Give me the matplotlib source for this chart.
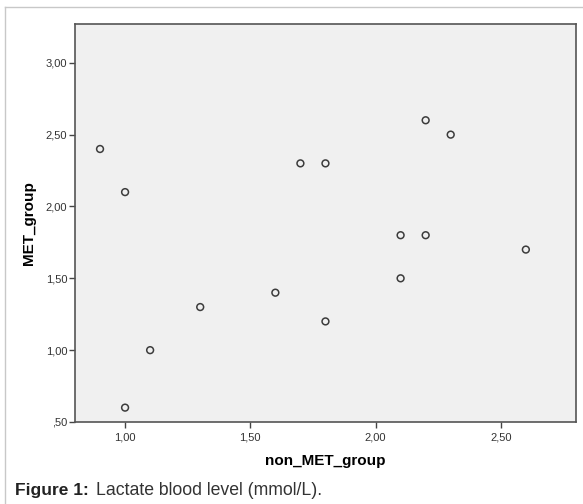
import matplotlib
matplotlib.use("Agg")
import matplotlib.pyplot as plt
import matplotlib.lines as lines

plt.rcParams['font.family'] = ['Liberation Sans', 'DejaVu Sans']

# lactate values (mmol/L)
non_met = [0.9, 1.0, 1.0, 1.1, 1.3, 1.6, 1.7, 1.8, 1.8, 2.1, 2.1, 2.2, 2.2, 2.3, 2.6]
met = [2.4, 2.1, 0.6, 1.0, 1.3, 1.4, 2.3, 2.3, 1.2, 1.8, 1.5, 2.6, 1.8, 2.5, 1.7]

x_ticks = [1.0, 1.5, 2.0, 2.5]
x_ticklabels = ['1,00', '1,50', '2,00', '2,50']
y_ticks = [0.5, 1.0, 1.5, 2.0, 2.5, 3.0]
y_ticklabels = [',50', '1,00', '1,50', '2,00', '2,50', '3,00']

fig = plt.figure(figsize=(5.83, 5.04), dpi=100)
ax = fig.add_axes([0.1286, 0.1627, 0.8593, 0.7897])
ax.set_facecolor('#f0f0f0')

ax.scatter(non_met, met, s=24, facecolors='none', edgecolors='#3c3c3c', linewidths=1.1, zorder=3)

ax.set_xlim(0.8, 2.8)
ax.set_ylim(0.5, 3.27)
ax.set_xticks(x_ticks)
ax.set_xticklabels(x_ticklabels)
ax.set_yticks(y_ticks)
ax.set_yticklabels(y_ticklabels)
ax.tick_params(direction='out', length=4, width=1, color='#444444',
               labelsize=8, labelcolor='#333333', pad=1.5)
ax.tick_params(axis='x', pad=3.5)
for s in ax.spines.values():
	s.set_color('#555555')
	s.set_linewidth(1.2)

ax.set_xlabel('non_MET_group', fontsize=11, fontweight='bold', va='center')
ax.set_ylabel('MET_group', fontsize=11, fontweight='bold', va='center')
ax.xaxis.set_label_coords(0.5, -0.098)
ax.yaxis.set_label_coords(-0.092, 0.499)

# outer frame (left and top only)
fig.add_artist(lines.Line2D([5/583, 5/583], [0, 1 - 7/504], color='#c8c8c8', lw=1))
fig.add_artist(lines.Line2D([5/583, 1], [1 - 7/504, 1 - 7/504], color='#c8c8c8', lw=1))

fig.text(15/583, 1 - 495/504, 'Figure 1:', fontsize=12.5, fontweight='bold', color='#222222', va='baseline')
fig.text(96/583, 1 - 495/504, 'Lactate blood level (mmol/L).', fontsize=12.7, color='#333333', va='baseline')

fig.savefig('out.png', dpi=100)
